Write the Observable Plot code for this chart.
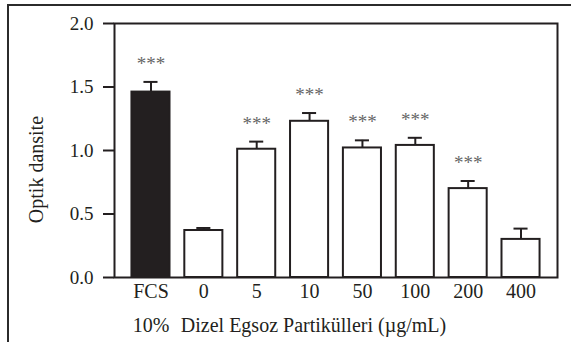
<!DOCTYPE html>
<html>
<head>
<meta charset="utf-8">
<script src="https://cdn.jsdelivr.net/npm/d3@7"></script>
<script src="https://cdn.jsdelivr.net/npm/@observablehq/plot@0.6"></script>
<style>
  html, body { margin: 0; padding: 0; background: #fff; }
  #wrap { position: relative; width: 571px; height: 342px; overflow: hidden; }
  #outer { position: absolute; left: 7px; top: 4px; width: 600px; height: 400px;
           border-top: 2px solid #2b2b2b; border-left: 2px solid #2b2b2b; pointer-events: none; }
  svg { font-family: "Liberation Serif", "DejaVu Serif", serif; }
</style>
</head>
<body>
<div id="wrap"><div id="outer"></div></div>
<script>
const categories = ["FCS", "0", "5", "10", "50", "100", "200", "400"];
const means      = [1.46, 0.37, 1.01, 1.23, 1.02, 1.04, 0.70, 0.30];
const errors     = [0.08, 0.02, 0.06, 0.065, 0.06, 0.06, 0.06, 0.085];
const signif     = ["***", "", "***", "***", "***", "***", "***", ""];
const yTicks     = [0, 0.5, 1.0, 1.5, 2.0];
const yLabel     = "Optik dansite";
const xLabelLeft = "10%";
const xLabelMain = "Dizel Egsoz Partikülleri (µg/mL)";

const data = categories.map((c, i) => ({
  cat: c, mean: means[i], err: errors[i], top: means[i] + errors[i], sig: signif[i]
}));

const ink = "#231f20";
const fs = 19;
const fsL = 20;

const chart = Plot.plot({
  width: 571,
  height: 342,
  marginLeft: 114,
  marginRight: 14,
  marginTop: 23,
  marginBottom: 65,
  style: { fontFamily: "'Liberation Serif', serif", fontSize: fs + "px", color: ink, background: "white", overflow: "visible" },
  x: { type: "band", domain: categories, paddingInner: 0.28, paddingOuter: 0.33, round: false, label: null },
  y: { domain: [0, 2], label: null },
  marks: [
    Plot.frame({ stroke: ink, strokeWidth: 2 }),
    Plot.barY(data, { x: "cat", y: "mean", fill: d => d.cat === "FCS" ? ink : "white", stroke: ink, strokeWidth: 2 }),
    Plot.ruleX(data, { x: "cat", y1: "mean", y2: "top", stroke: ink, strokeWidth: 2 }),
    Plot.tickY(data, { x: "cat", y: "top", stroke: ink, strokeWidth: 2, insetLeft: 12, insetRight: 12 }),
    Plot.text(data.filter(d => d.sig), { x: "cat", y: "top", text: "sig", dy: -12, lineAnchor: "bottom", fill: "#666", fontSize: fs }),
    Plot.axisY({ ticks: yTicks, tickFormat: d3.format(".1f"), tickSize: 11, tickPadding: 10, strokeWidth: 2, stroke: ink, fill: ink, fontSize: fs, label: null }),
    Plot.axisX({ tickSize: 0, tickPadding: 6, fill: ink, fontSize: fsL, label: null }),
    Plot.text([xLabelLeft], { x: () => "FCS", frameAnchor: "bottom", dy: 54, lineAnchor: "bottom", text: d => d, fill: ink, fontSize: fsL }),
    Plot.text([xLabelMain], { x: () => "0", frameAnchor: "bottom", dy: 54, lineAnchor: "bottom", textAnchor: "start", dx: -23, text: d => d, fill: ink, fontSize: fsL }),
    Plot.text([yLabel], { y: () => 0.85, frameAnchor: "left", dx: -78, rotate: -90, textAnchor: "middle", text: d => d, fill: ink, fontSize: fsL })
  ]
});
document.getElementById("wrap").insertBefore(chart, document.getElementById("outer"));
</script>
</body>
</html>
